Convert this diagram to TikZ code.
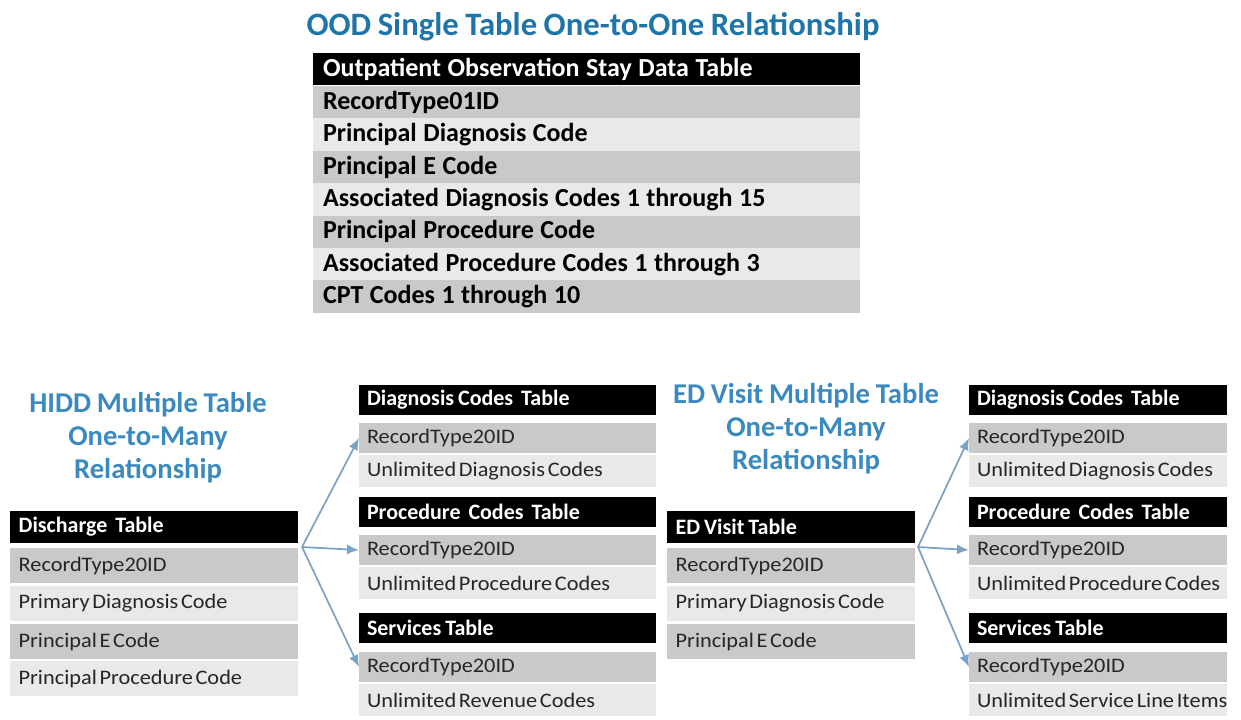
\documentclass[tikz,border=0pt]{standalone}
\usepackage{fontspec}
\setmainfont{Carlito}
\newfontfamily\cellfont{Carlito}[FakeStretch=1.08]
\usetikzlibrary{arrows.meta}
\definecolor{oodblue}{HTML}{1F74A8}
\definecolor{ttlblue}{HTML}{3A8AC0}
\definecolor{rowdark}{HTML}{C9C9C9}
\definecolor{rowlight}{HTML}{E9E9E9}
\definecolor{linkblue}{HTML}{7BA3C8}
\definecolor{celltext}{HTML}{262626}
\begin{document}
\begin{tikzpicture}[x=0.75pt,y=-0.75pt,
  tsp/.style={execute at begin node={\spaceskip=#1em\xspaceskip=#1em\relax}},
  cell/.style={anchor=north west, inner ysep=0pt, outer sep=0pt, align=left},
  hdr/.style={fill=black, text=white, font=\fontsize{16.5}{16.5}\selectfont\bfseries, tsp=0.18},
  row/.style={text=celltext, font=\cellfont\fontsize{15.5}{15.5}\selectfont, tsp=0.13},
  topcell/.style={cell, inner xsep=7.5pt, text width=395.25pt, minimum height=24.25pt,
    font=\fontsize{19.5}{19.5}\selectfont\bfseries, tsp=0.25},
  discell/.style={cell, inner xsep=6.5pt, text width=203pt, minimum height=#1},
  midcell/.style={cell, inner xsep=6pt, text width=210.75pt, minimum height=#1},
  edcell/.style={cell, inner xsep=6.5pt, text width=173pt, minimum height=#1},
  rgtcell/.style={cell, inner xsep=6pt, text width=181.5pt, minimum height=#1},
  ttl/.style={align=center, inner sep=0pt, font=\fontsize{21.5}{24.75}\selectfont\bfseries, tsp=0.2},
  link/.style={-{Latex[length=9pt,width=7.5pt]}, draw=linkblue, line width=1.3pt}]
\fill[white] (0,0) rectangle (1241,719);
% one-to-one table
\node[ttl, text=oodblue, font=\fontsize{24.5}{24.5}\selectfont\bfseries] (oodttl) at (593,27)
  {OOD Single Table One-to-One Relationship};
\node[topcell, fill=black, text=white] (ood) at (313,53) {Outpatient Observation Stay Data Table};
\foreach \txt/\col [count=\i] in {RecordType01ID/rowdark, Principal Diagnosis Code/rowlight,
    Principal E Code/rowdark, Associated Diagnosis Codes 1 through 15/rowlight,
    Principal Procedure Code/rowdark, Associated Procedure Codes 1 through 3/rowlight,
    CPT Codes 1 through 10/rowdark}
  \node[topcell, fill=\col] (ood\i) at ({313},{86+(\i-1)*32.4}) {\txt};

% HIDD one-to-many
\node[ttl, text=ttlblue] (hiddttl) at (148,438) {HIDD Multiple Table\\One-to-Many\\Relationship};
\node[discell=24pt, hdr] (dis) at (10,511) {Discharge~ Table};
\node[discell=26.25pt, row, fill=rowdark] (dis1) at (10,548) {RecordType20ID};
\node[discell=26.25pt, row, fill=rowlight] (dis2) at (10,586) {Primary Diagnosis Code};
\node[discell=26.25pt, row, fill=rowdark] (dis3) at (10,624) {Principal E Code};
\node[discell=26.25pt, row, fill=rowlight] (dis4) at (10,661) {Principal Procedure Code};

\node[midcell=22.5pt, hdr] (ldia) at (359,385) {Diagnosis Codes~ Table};
\node[midcell=22.5pt, row, fill=rowdark] (ldia1) at (359,423) {RecordType20ID};
\node[midcell=24pt, row, fill=rowlight] (ldia2) at (359,455) {Unlimited Diagnosis Codes};
\node[midcell=22.5pt, hdr] (lpro) at (359,497) {Procedure~ Codes~ Table};
\node[midcell=22.5pt, row, fill=rowdark] (lpro1) at (359,535) {RecordType20ID};
\node[midcell=24pt, row, fill=rowlight] (lpro2) at (359,567) {Unlimited Procedure Codes};
\node[midcell=22.5pt, hdr] (lser) at (359,613) {Services Table};
\node[midcell=22.5pt, row, fill=rowdark] (lser1) at (359,652) {RecordType20ID};
\node[midcell=24pt, row, fill=rowlight] (lser2) at (359,684) {Unlimited Revenue Codes};

\coordinate (hubL) at (302,547);
\draw[link] (hubL) -- (ldia1.west);
\draw[link] (hubL) -- (lpro1.west);
\draw[link] (hubL) -- (lser1.west);

% ED visit one-to-many
\node[ttl, text=ttlblue] (edttl) at (806,429) {ED Visit Multiple Table\\One-to-Many\\Relationship};
\node[edcell=24pt, hdr] (edv) at (667,511) {ED Visit Table};
\node[edcell=26.25pt, row, fill=rowdark] (edv1) at (667,548) {RecordType20ID};
\node[edcell=26.25pt, row, fill=rowlight] (edv2) at (667,586) {Primary Diagnosis Code};
\node[edcell=26.25pt, row, fill=rowdark] (edv3) at (667,624) {Principal E Code};

\node[rgtcell=22.5pt, hdr] (rdia) at (969,385) {Diagnosis Codes~ Table};
\node[rgtcell=22.5pt, row, fill=rowdark] (rdia1) at (969,423) {RecordType20ID};
\node[rgtcell=24pt, row, fill=rowlight] (rdia2) at (969,455) {\mbox{Unlimited Diagnosis Codes}};
\node[rgtcell=22.5pt, hdr] (rpro) at (969,497) {Procedure~ Codes~ Table};
\node[rgtcell=22.5pt, row, fill=rowdark] (rpro1) at (969,535) {RecordType20ID};
\node[rgtcell=24pt, row, fill=rowlight] (rpro2) at (969,567) {\mbox{Unlimited Procedure Codes}};
\node[rgtcell=22.5pt, hdr] (rser) at (969,613) {Services Table};
\node[rgtcell=22.5pt, row, fill=rowdark] (rser1) at (969,652) {RecordType20ID};
\node[rgtcell=24pt, row, fill=rowlight] (rser2) at (969,684) {\mbox{Unlimited Service Line Items}};

\coordinate (hubR) at (918,547);
\draw[link] (hubR) -- (rdia1.west);
\draw[link] (hubR) -- (rpro1.west);
\draw[link] (hubR) -- (rser1.west);
\end{tikzpicture}
\end{document}
